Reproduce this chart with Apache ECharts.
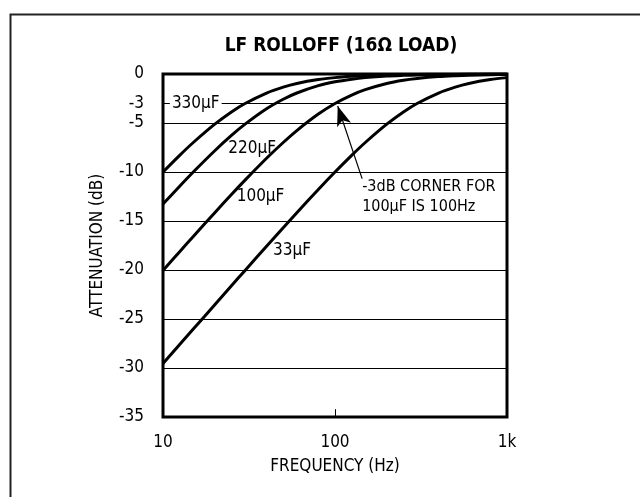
<!DOCTYPE html>
<html>
<head>
<meta charset="utf-8">
<script src="https://cdn.jsdelivr.net/npm/echarts@6/dist/echarts.min.js"></script>
<style>
html,body{margin:0;padding:0;background:#fff;}
#c{width:640px;height:497px;}
</style>
</head>
<body>
<div id="c"></div>
<script>
// ---- data ----
const freqs = [10, 12.5, 15, 20, 25, 30, 40, 50, 60, 80, 100, 125, 150, 200, 250, 300, 400, 500, 600, 800, 1000];
const c330 = [-10.0, -8.30, -6.99, -5.12, -3.87, -3.01, -1.94, -1.34, -0.97, -0.57, -0.37, -0.24, -0.17, -0.10, -0.06, -0.04, -0.02, -0.02, -0.01, -0.01, 0.0];
const c220 = [-13.27, -11.45, -10.0, -7.83, -6.27, -5.12, -3.55, -2.58, -1.94, -1.19, -0.80, -0.53, -0.37, -0.21, -0.14, -0.10, -0.05, -0.04, -0.02, -0.01, -0.01];
const c100 = [-20.04, -18.13, -16.57, -14.15, -12.30, -10.83, -8.60, -6.99, -5.77, -4.09, -3.01, -2.15, -1.60, -0.97, -0.64, -0.46, -0.26, -0.17, -0.12, -0.07, -0.04];
const c33  = [-29.55, -27.61, -26.03, -23.54, -21.61, -20.04, -17.58, -15.68, -14.15, -11.78, -10.0, -8.30, -6.99, -5.12, -3.87, -3.01, -1.94, -1.34, -0.97, -0.57, -0.37];
const yTicks = [0, -3, -5, -10, -15, -20, -25, -30, -35];
const xTicks = [100];
const gridLines = [-3, -5, -10, -15, -20, -25, -30];
const curveLabels = [
  {text: '330\u00b5F', f: 15.5, db: -3.0, bg: true},
  {text: '220\u00b5F', f: 33, db: -7.6, bg: false},
  {text: '100\u00b5F', f: 36.9, db: -12.5, bg: false},
  {text: '33\u00b5F', f: 56.2, db: -18.0, bg: false}
];
const arrowTail = [143.9, -10.7];
const arrowTip = [103.7, -3.27];
const noteLines = [
  {text: '-3dB CORNER FOR', f: 141.9, db: -11.5},
  {text: '100\u00b5F IS 100Hz', f: 141.9, db: -13.55}
];

const FONT = "'Liberation Sans Narrow', 'DejaVu Sans Condensed', 'Roboto Condensed', sans-serif";
const chart = echarts.init(document.getElementById('c'), null, {renderer: 'canvas'});

function pairs(vals) { return freqs.map((f, i) => [f, vals[i]]); }

function curve(name, vals) {
  return {
    name: name, type: 'line', data: pairs(vals), showSymbol: false, symbol: 'none',
    smooth: 0.3, z: 3,
    lineStyle: {color: '#000', width: 3}, silent: true, animation: false
  };
}

const option = {
  animation: false,
  backgroundColor: '#fff',
  title: {
    text: 'LF ROLLOFF (16\u03a9 LOAD)', left: 336, top: 32, textAlign: 'center',
    textStyle: {fontFamily: FONT, fontWeight: 'bold', fontSize: 19, color: '#000'}
  },
  grid: {left: 163, right: 133, top: 74, bottom: 80, show: true, borderColor: '#000', borderWidth: 3, backgroundColor: 'transparent'},
  xAxis: {
    type: 'log', logBase: 10, min: 10, max: 1000,
    axisLine: {show: false},
    axisTick: {show: false},
    splitLine: {show: false},
    axisLabel: {fontFamily: FONT, fontSize: 17, color: '#000', margin: 17,
      formatter: v => v >= 1000 ? '1k' : String(v)},
    name: 'FREQUENCY (Hz)', nameLocation: 'middle', nameGap: 41,
    nameTextStyle: {fontFamily: FONT, fontSize: 17, color: '#000'}
  },
  yAxis: {
    type: 'value', min: -35, max: 0, interval: 1,
    axisLine: {show: false}, axisTick: {show: false}, splitLine: {show: false},
    axisLabel: {fontFamily: FONT, fontSize: 17, color: '#000', margin: 19,
      formatter: v => yTicks.indexOf(v) >= 0 ? String(v) : ''},
    name: 'ATTENUATION (dB)', nameLocation: 'middle', nameGap: 57, nameRotate: 90,
    nameTextStyle: {fontFamily: FONT, fontSize: 17, color: '#000'}
  },
  series: [
    {
      type: 'line', data: [], silent: true, z: 1,
      markLine: {
        silent: true, symbol: ['none', 'none'], animation: false, label: {show: false},
        lineStyle: {color: '#000', width: 1, type: 'solid'},
        data: gridLines.map(v => ({yAxis: v})).concat(
          xTicks.map(t => [{coord: [t, -35]}, {coord: [t, -34.2]}]))
      }
    },
    curve('330', c330),
    curve('220', c220),
    curve('100', c100),
    curve('33', c33),
    {
      type: 'line', data: [], silent: true, z: 6,
      markLine: {
        silent: true, animation: false, symbol: ['none', 'arrow'], symbolSize: [11, 20],
        label: {show: false},
        lineStyle: {color: '#000', width: 1.2, type: 'solid'},
        data: [[{coord: arrowTail}, {coord: arrowTip}]]
      },
      markPoint: {
        silent: true, animation: false, symbol: 'circle', symbolSize: 0,
        data: curveLabels.map(l => ({
          coord: [l.f, l.db], value: l.text,
          label: {show: true, position: 'inside', formatter: l.text, fontFamily: FONT, fontSize: 17,
            color: '#000', backgroundColor: l.bg ? '#fff' : 'transparent', padding: [1, 2]}
        })).concat(noteLines.map(l => ({
          coord: [l.f, l.db], value: l.text,
          label: {show: true, position: 'right', distance: 0, formatter: l.text, fontFamily: FONT, fontSize: 16,
            color: '#000', backgroundColor: '#fff', padding: [0, 1]}
        })))
      }
    }
  ],
  graphic: [{
    type: 'rect', left: 8, top: 12, silent: true, z: -10,
    shape: {x: 0, y: 0, width: 700, height: 600},
    style: {fill: 'none', stroke: '#222', lineWidth: 2}
  }]
};
chart.setOption(option);
</script>
</body>
</html>
